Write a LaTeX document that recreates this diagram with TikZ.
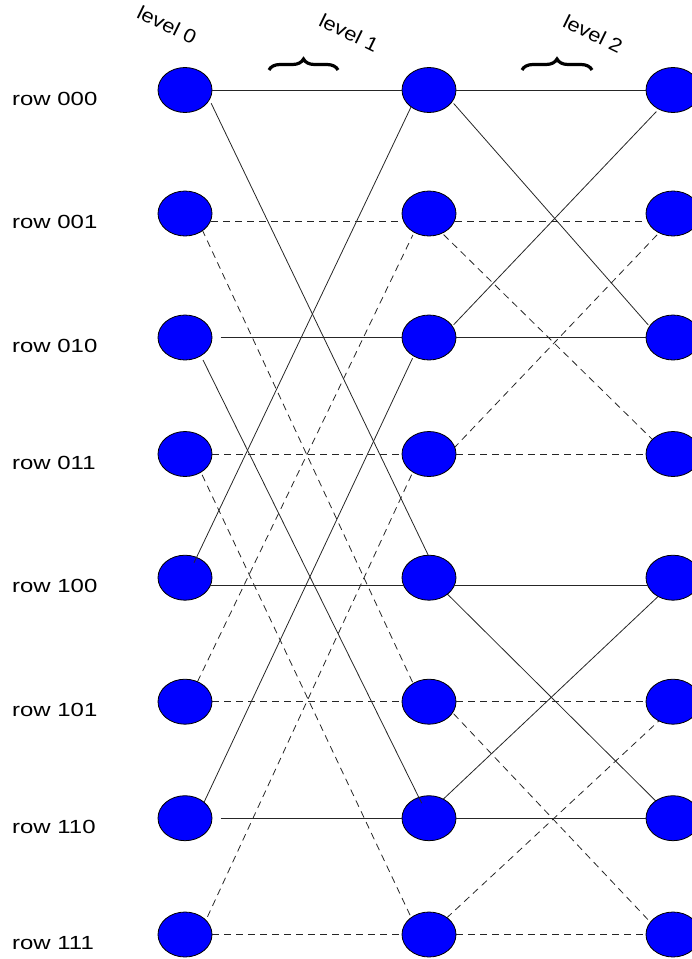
\documentclass[tikz,border=0pt]{standalone}
\usepackage{graphicx}
\usepackage{fontspec}
\setmainfont[FakeStretch=1.26]{Liberation Sans}
\newfontfamily\capfont{Liberation Sans}
\usetikzlibrary{shapes.geometric,decorations.pathreplacing,calc,backgrounds}

\begin{document}
\begin{tikzpicture}[x=1pt,y=-1pt,
  site/.style={ellipse, draw=black, fill=blue, line width=0.8pt,
               minimum width=54pt, minimum height=45pt, inner sep=0pt},
  link/.style={draw=black!85, line width=0.8pt},
  dlink/.style={link, dash pattern=on 7pt off 5pt},
  tucked/.style={shorten <=-2pt, shorten >=-2pt},
  rowlab/.style={anchor=base west, inner sep=0pt, font=\fontsize{19}{22}\selectfont},
  lvl/.style={inner sep=0pt, rotate=-26, font=\capfont\fontsize{19.5}{22}\selectfont},
  grp/.style={decorate, decoration={brace, amplitude=11pt}, line width=3.2pt}
]
\clip (0,0) rectangle (692,959);

% three columns of eight sites, one per row address
\foreach \r/\y/\lab in {0/90/000, 1/213.5/001, 2/337.5/010, 3/454/011,
                        4/577.7/100, 5/701.7/101, 6/818.2/110, 7/934.5/111} {
  \node[site] (n0-\r) at (185,\y) {};
  \node[site] (n1-\r) at (429,\y) {};
  \node[site] (n2-\r) at (673,\y) {};
  \node[rowlab] (lab-\r) at (12,\y+15) {row \lab};
}

% straight links along each row
\draw[link]  (n0-0.east) -- (n1-0.west);
\draw[link]  (n1-0.east) -- (n2-0.west);
\draw[dlink] ($(n0-1)+(26,7.5)$) -- ($(n1-1)+(-26,7.5)$);
\draw[dlink] ($(n1-1)+(26,7.5)$) -- ($(n2-1)+(-26,7.5)$);
\draw[link]  ($(n0-2)+(35.7,0)$) -- (n1-2.west);
\draw[link]  (n1-2.east) -- (n2-2.west);
\draw[dlink] (n0-3.east) -- (n1-3.west);
\draw[dlink] (n1-3.east) -- (n2-3.west);
\draw[link]  ($(n0-4)+(26,7.5)$) -- ($(n1-4)+(-26,7.5)$);
\draw[link]  ($(n1-4)+(26,7.5)$) -- ($(n2-4)+(-26,7.5)$);
\draw[dlink] (n0-5.east) -- (n1-5.west);
\draw[dlink] (n1-5.east) -- (n2-5.west);
\draw[link]  ($(n0-6)+(35.7,0)$) -- (n1-6.west);
\draw[link]  (n1-6.east) -- (n2-6.west);
\draw[dlink] (n0-7.east) -- (n1-7.west);
\draw[dlink] (n1-7.east) -- (n2-7.west);

% crossing links of the butterfly, tucked under the sites
\begin{pgfonlayer}{background}
\foreach \p/\ax/\ay/\q/\bx/\by/\s in {
    n0-0/27/15/n1-4/-1/-23/link,
    n0-1/18/18/n1-5/-16/-18.5/dlink,
    n0-3/18/22.7/n1-7/-19/-19.5/dlink,
    n0-5/13.3/-21.7/n1-1/-17/23.2/dlink,
    n0-6/20/-18/n1-2/-17.3/22.5/link,
    n0-7/23.3/-19.5/n1-3/-18/22/dlink,
    n1-0/26/15/n2-2/-26/-14/link,
    n1-2/26/-14.2/n2-0/-18/23/link,
    n1-1/16/22.5/n2-3/-18/-12/dlink,
    n1-3/26/-7/n2-1/-17/22.5/dlink,
    n1-4/19.3/17.3/n2-6/-18/-18/link,
    n1-6/15.3/-20/n2-4/-13/17/link,
    n1-5/26/13.5/n2-7/-26.3/-16.2/dlink,
    n1-7/19/-17.8/n2-5/-8/13.5/dlink} {
  \draw[\s, tucked] ($(\p)+(\ax,\ay)$) -- ($(\q)+(\bx,\by)$);
}
\end{pgfonlayer}

% two crossing links whose ends run into a site
\draw[link] ($(n0-4)+(9,-15)$) -- ($(n1-0)+(-17.9,16.8)$);
\draw[link] ($(n0-2)+(18,22.5)$) -- ($(n1-6)+(-7.3,-15)$);

% level captions and group braces
\node[lvl] (lv0) at (167,25) {\scalebox{1.12}[1]{level 0}};
\node[lvl] (lv1) at (349,33) {\scalebox{1.12}[1]{level 1}};
\node[lvl] (lv2) at (593,34) {\scalebox{1.12}[1]{level 2}};
\draw[grp] (269,70) -- (338,70);
\draw[grp] (522,70) -- (592,70);
\end{tikzpicture}
\end{document}
